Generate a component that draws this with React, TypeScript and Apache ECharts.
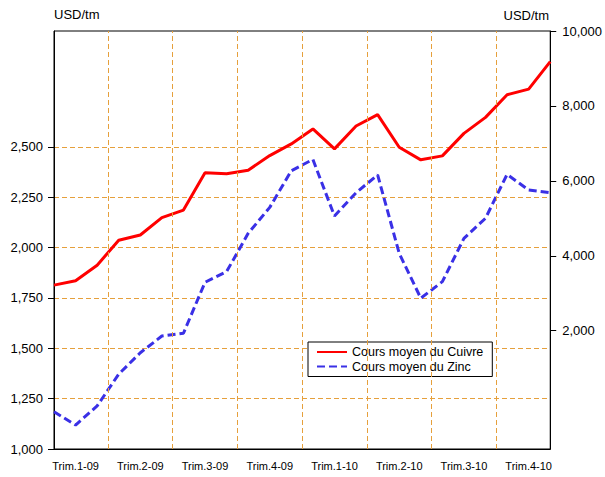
import React, { useEffect, useRef } from "react";
import * as echarts from "echarts";

const months = [
  "2009-01", "2009-02", "2009-03", "2009-04", "2009-05", "2009-06",
  "2009-07", "2009-08", "2009-09", "2009-10", "2009-11", "2009-12",
  "2010-01", "2010-02", "2010-03", "2010-04", "2010-05", "2010-06",
  "2010-07", "2010-08", "2010-09", "2010-10", "2010-11", "2010-12",
];
const quarterLabels = [
  "Trim.1-09", "Trim.2-09", "Trim.3-09", "Trim.4-09",
  "Trim.1-10", "Trim.2-10", "Trim.3-10", "Trim.4-10",
];
// Copper – right axis (USD/tm)
const copper = [
  3217, 3331, 3749, 4414, 4555, 5018, 5220, 6215, 6188, 6284, 6675, 6986,
  7385, 6853, 7465, 7766, 6896, 6561, 6667, 7268, 7694, 8298, 8449, 9183,
];
// Zinc – left axis (USD/tm)
const zinc = [
  1185, 1119, 1214, 1372, 1478, 1561, 1575, 1828, 1881, 2071, 2200, 2382,
  2438, 2157, 2273, 2361, 1972, 1749, 1831, 2046, 2146, 2364, 2286, 2273,
];
const leftTicks = [1000, 1250, 1500, 1750, 2000, 2250, 2500];
const rightTicks = [2000, 4000, 6000, 8000, 10000];
const seriesNames = ["Cours moyen du Cuivre", "Cours moyen du Zinc"];
const unit = "USD/tm";

const FONT = "'Liberation Sans', Arial, sans-serif";
const GRID_COLOR = "#e6a03c";

export default function App() {
  const ref = useRef<HTMLDivElement>(null);
  useEffect(() => {
    if (!ref.current) return;
    const chart = echarts.init(ref.current, null, { renderer: "svg" });
    const fmt = (v: number) => v.toLocaleString("en-US");
    const boundaries = quarterLabels.slice(1).map((_, k) => 3 * (k + 1) - 0.5);
    chart.setOption({
      animation: false,
      backgroundColor: "#fff",
      textStyle: { fontFamily: FONT },
      grid: {
        left: 54, right: 54, top: 31, bottom: 28,
        show: true, borderColor: "#000", borderWidth: 1, backgroundColor: "transparent",
      },
      graphic: [
        { type: "text", left: 54, top: 8, style: { text: unit, font: `13px ${FONT}`, fill: "#000" } },
        { type: "text", right: 56, top: 9, style: { text: unit, font: `13px ${FONT}`, fill: "#000" } },
      ],
      legend: {
        orient: "vertical",
        left: 308, top: 342,
        padding: [3.5, 9, 3.5, 8],
        itemWidth: 30, itemHeight: 14, itemGap: 1.5,
        borderColor: "#000", borderWidth: 1, borderRadius: 0,
        backgroundColor: "#fff",
        itemStyle: { opacity: 0 },
        textStyle: { fontSize: 12.5, color: "#000", fontFamily: FONT },
        data: seriesNames,
      },
      xAxis: [
        {
          type: "value", min: 0, max: months.length - 1, z: 5,
          axisLine: { show: true, onZero: false, lineStyle: { color: "#000", width: 1 } },
          axisTick: { show: false }, axisLabel: { show: false }, splitLine: { show: false },
        },
        {
          type: "category", data: months, boundaryGap: false, position: "bottom",
          axisLine: { show: false, onZero: false }, axisTick: { show: false }, splitLine: { show: false },
          axisLabel: {
            interval: (i: number) => i % 3 === 1,
            formatter: (_v: string, i: number) => quarterLabels[Math.floor(i / 3)],
            fontSize: 11, color: "#000", margin: 11, fontFamily: FONT,
          },
        },
      ],
      yAxis: [
        {
          type: "value", min: 1000, max: 3076, position: "left",
          axisLine: { show: true, onZero: false, lineStyle: { color: "#000", width: 1 } },
          axisTick: { show: true, length: 6, customValues: leftTicks, lineStyle: { color: "#000" } },
          axisLabel: { customValues: leftTicks, formatter: fmt, fontSize: 13, color: "#000", margin: 11, fontFamily: FONT },
          splitLine: { show: true, lineStyle: { color: GRID_COLOR, type: [5, 3], width: 1 } },
        },
        {
          type: "value", min: -1158, max: 10000, position: "right",
          axisLine: { show: true, onZero: false, lineStyle: { color: "#000", width: 1 } },
          axisTick: { show: true, length: 6, customValues: rightTicks, lineStyle: { color: "#000" } },
          axisLabel: { customValues: rightTicks, formatter: fmt, fontSize: 13, color: "#000", margin: 12, fontFamily: FONT },
          splitLine: { show: false },
        },
      ],
      series: [
        {
          name: seriesNames[0], type: "line", xAxisIndex: 0, yAxisIndex: 1,
          data: copper.map((v, i) => [i, v]), symbol: "none", z: 4,
          lineStyle: { color: "#ff0000", width: 3 }, itemStyle: { color: "#ff0000" },
          markLine: {
            silent: true, symbol: "none", label: { show: false },
            lineStyle: { color: GRID_COLOR, type: [5, 3], width: 1 },
            data: boundaries.map((b) => ({ xAxis: b })),
          },
        },
        {
          name: seriesNames[1], type: "line", xAxisIndex: 0, yAxisIndex: 0,
          data: zinc.map((v, i) => [i, v]), symbol: "none", z: 3,
          lineStyle: { color: "#3a30e6", width: 3, type: [8, 4] }, itemStyle: { color: "#3a30e6" },
        },
      ],
    });
    return () => chart.dispose();
  }, []);
  return <div ref={ref} style={{ width: 605, height: 477, position: "absolute", left: 0, top: 0 }} />;
}
